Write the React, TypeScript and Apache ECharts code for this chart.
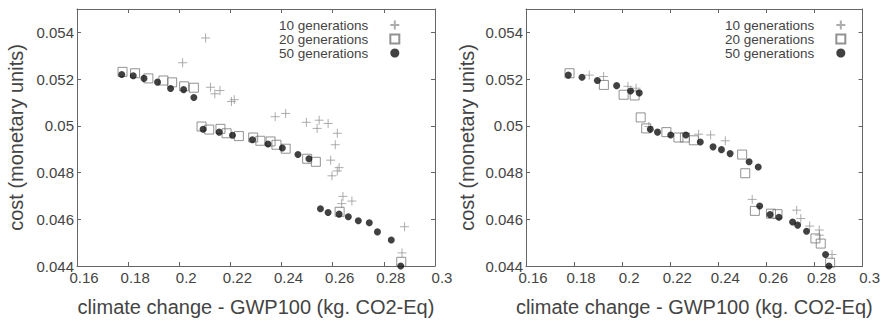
import React, { useEffect, useRef } from "react";
import * as echarts from "echarts";

const seriesNames = ["10 generations", "20 generations", "50 generations"];
const xTitle = "climate change - GWP100 (kg. CO2-Eq)";
const yTitle = "cost (monetary units)";

// left panel
const left10 = [
  [0.2103, 0.05376], [0.2013, 0.0527], [0.2122, 0.05165], [0.2139, 0.05137], [0.2159, 0.05151],
  [0.2204, 0.05104], [0.2215, 0.05112], [0.2375, 0.05039], [0.2416, 0.05053], [0.2497, 0.05015],
  [0.2547, 0.05024], [0.2539, 0.04989], [0.2582, 0.0501], [0.2618, 0.04968], [0.261, 0.04919],
  [0.2592, 0.04853], [0.2625, 0.04821], [0.2618, 0.04807], [0.2597, 0.04786], [0.264, 0.04698],
  [0.2635, 0.04667], [0.2675, 0.04678], [0.2881, 0.04568], [0.2871, 0.04456],
];
const left20 = [
  [0.1778, 0.05231], [0.1827, 0.05225], [0.1879, 0.05203], [0.1938, 0.05194], [0.1972, 0.05186],
  [0.2019, 0.05169], [0.2057, 0.05163], [0.2087, 0.04997], [0.2117, 0.04984], [0.2161, 0.04987],
  [0.2185, 0.04968], [0.2233, 0.04956], [0.2289, 0.0495], [0.2317, 0.04936], [0.2357, 0.04933],
  [0.238, 0.04919], [0.2416, 0.04902], [0.25, 0.04859], [0.2534, 0.04846], [0.2627, 0.04632],
  [0.2868, 0.04418],
];
const left50 = [
  [0.1775, 0.0522], [0.182, 0.05214], [0.1862, 0.05203], [0.1915, 0.05187], [0.1966, 0.0516],
  [0.2017, 0.05155], [0.2057, 0.05121], [0.2093, 0.04985], [0.2156, 0.04973], [0.2208, 0.0496],
  [0.2286, 0.0494], [0.2347, 0.04922], [0.2403, 0.04905], [0.2464, 0.04877], [0.2507, 0.04859],
  [0.2552, 0.04645], [0.2582, 0.04629], [0.2625, 0.04622], [0.2661, 0.04611], [0.27, 0.04594],
  [0.2743, 0.04585], [0.2775, 0.04546], [0.2829, 0.04511], [0.2866, 0.044],
];

// right panel
const right10 = [
  [0.1863, 0.05217], [0.1923, 0.05211], [0.2024, 0.05169], [0.2058, 0.05161], [0.2111, 0.04997],
  [0.2318, 0.04964], [0.2368, 0.04961], [0.2429, 0.04936], [0.2541, 0.04685], [0.2726, 0.04639],
  [0.2743, 0.04603], [0.278, 0.04571], [0.282, 0.04554], [0.282, 0.04532], [0.2873, 0.04449],
];
const right20 = [
  [0.1781, 0.05225], [0.1924, 0.05175], [0.2006, 0.05133], [0.2052, 0.0513], [0.2077, 0.05036],
  [0.21, 0.04989], [0.2184, 0.04973], [0.2234, 0.0495], [0.2261, 0.0495], [0.2298, 0.04938],
  [0.2499, 0.04877], [0.2512, 0.04797], [0.2552, 0.04636], [0.2619, 0.04624], [0.2646, 0.04622],
  [0.2804, 0.04518], [0.2826, 0.04496], [0.2865, 0.04414],
];
const right50 = [
  [0.1776, 0.05217], [0.1833, 0.05208], [0.1897, 0.05194], [0.1977, 0.05172], [0.2035, 0.05149],
  [0.2071, 0.05141], [0.2117, 0.04985], [0.2147, 0.04973], [0.2202, 0.04961], [0.2265, 0.04961],
  [0.2325, 0.04931], [0.2378, 0.0491], [0.2413, 0.04898], [0.2449, 0.04881], [0.2528, 0.04846],
  [0.2566, 0.04824], [0.2572, 0.04657], [0.2615, 0.0462], [0.2652, 0.04609], [0.2709, 0.04588],
  [0.273, 0.04575], [0.2767, 0.04549], [0.2846, 0.04449], [0.286, 0.044],
];

const X_MIN = 0.16, X_MAX = 0.3, X_STEP = 0.02;
const Y_MIN = 0.044, Y_MAX = 0.055, Y_STEP = 0.002;

const FONT = "'Liberation Sans', Arial, sans-serif";
const AXIS_COLOR = "#666";
const TEXT_COLOR = "#444";

function xAxisFor(gridIndex: number, top: boolean) {
  return {
    gridIndex,
    type: "value",
    position: top ? "top" : "bottom",
    min: X_MIN,
    max: X_MAX,
    interval: X_STEP,
    name: top ? "" : xTitle,
    nameLocation: "middle",
    nameGap: 31,
    nameTextStyle: { fontSize: 20, color: TEXT_COLOR, fontFamily: FONT },
    axisLine: { show: true, onZero: false, lineStyle: { color: AXIS_COLOR } },
    axisTick: { show: true, inside: true, length: 4, lineStyle: { color: AXIS_COLOR } },
    axisLabel: {
      show: !top,
      fontSize: 15,
      color: TEXT_COLOR,
      fontFamily: FONT,
      margin: 4,
      padding: [0, 0, 0, 14],
      formatter: (v: number) => String(+v.toFixed(3)),
    },
    splitLine: { show: false },
  };
}

function yAxisFor(gridIndex: number, right: boolean, gap: number) {
  return {
    gridIndex,
    type: "value",
    position: right ? "right" : "left",
    min: Y_MIN,
    max: Y_MAX,
    interval: Y_STEP,
    name: right ? "" : yTitle,
    nameLocation: "middle",
    nameGap: gap,
    nameTextStyle: { fontSize: 20, color: TEXT_COLOR, fontFamily: FONT },
    axisLine: { show: true, onZero: false, lineStyle: { color: AXIS_COLOR } },
    axisTick: { show: true, inside: true, length: 4, lineStyle: { color: AXIS_COLOR } },
    axisLabel: {
      show: !right,
      fontSize: 15,
      color: TEXT_COLOR,
      fontFamily: FONT,
      margin: 3,
      formatter: (v: number) => (Math.abs(v - Y_MAX) < 1e-9 ? "" : String(+v.toFixed(3))),
    },
    splitLine: { show: false },
  };
}

const PLUS = "path://M0,5L10,5M5,0L5,10";

function seriesFor(xi: number, yi: number, d10: number[][], d20: number[][], d50: number[][]) {
  return [
    {
      name: seriesNames[0],
      type: "scatter",
      xAxisIndex: xi,
      yAxisIndex: yi,
      data: d10,
      symbol: PLUS,
      symbolSize: 9,
      itemStyle: { color: "rgba(0,0,0,0)", borderColor: "#999", borderWidth: 1 },
    },
    {
      name: seriesNames[1],
      type: "scatter",
      xAxisIndex: xi,
      yAxisIndex: yi,
      data: d20,
      symbol: "rect",
      symbolSize: 9,
      itemStyle: { color: "rgba(0,0,0,0)", borderColor: "#777", borderWidth: 1 },
    },
    {
      name: seriesNames[2],
      type: "scatter",
      xAxisIndex: xi,
      yAxisIndex: yi,
      data: d50,
      symbol: "circle",
      symbolSize: 7,
      itemStyle: { color: "#111" },
    },
  ];
}

function legendAt(left: number) {
  return {
    left,
    top: 13,
    orient: "vertical",
    align: "right",
    selectedMode: false,
    itemWidth: 9,
    itemHeight: 9,
    itemGap: 0,
    textStyle: {
      fontSize: 13.5,
      lineHeight: 14,
      color: TEXT_COLOR,
      fontFamily: FONT,
      padding: [0, 17, 0, 0],
    },
    data: seriesNames,
  };
}

export default function App() {
  const ref = useRef<HTMLDivElement>(null);
  useEffect(() => {
    if (!ref.current) return;
    const chart = echarts.init(ref.current, null, { renderer: "svg" });
    chart.setOption({
      animation: false,
      backgroundColor: "#fff",
      textStyle: { fontFamily: FONT },
      grid: [
        { left: 77, right: 448, top: 9, bottom: 52 },
        { left: 526, right: 8, top: 9, bottom: 52 },
      ],
      xAxis: [xAxisFor(0, false), xAxisFor(0, true), xAxisFor(1, false), xAxisFor(1, true)],
      yAxis: [yAxisFor(0, false, 51), yAxisFor(0, true, 0), yAxisFor(1, false, 49), yAxisFor(1, true, 0)],
      legend: [legendAt(274), legendAt(720)],
      series: [...seriesFor(0, 0, left10, left20, left50), ...seriesFor(2, 2, right10, right20, right50)],
    });
    return () => chart.dispose();
  }, []);
  return (
    <div
      ref={ref}
      style={{ position: "fixed", left: 0, top: 0, width: 883, height: 322, background: "#fff" }}
    />
  );
}
